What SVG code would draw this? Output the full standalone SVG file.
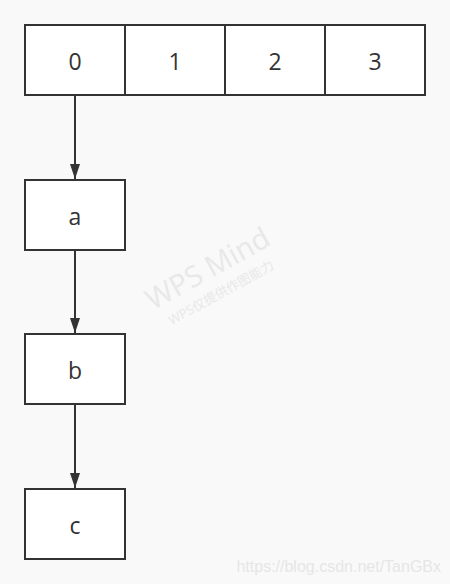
<svg xmlns="http://www.w3.org/2000/svg" width="450" height="584" viewBox="0 0 450 584">
<style>
.box{fill:#ffffff;stroke:#333333;stroke-width:2}
.lbl{font-family:"Open Sans","Noto Sans",sans-serif;font-size:23px;fill:#333333;text-anchor:middle;dominant-baseline:central}
.edge{stroke:#333333;stroke-width:2;fill:none}
.wm{font-family:"Open Sans","Noto Sans","Noto Sans CJK SC",sans-serif;fill:#e8e8e8}
</style>
<defs>
<marker id="arr" markerWidth="15" markerHeight="10" refX="15" refY="5" orient="auto" markerUnits="userSpaceOnUse" viewBox="0 0 15 10">
<path d="M0,0 L15,5 L0,10 Z" fill="#333333"/>
</marker>
</defs>
<rect width="450" height="584" fill="#f9f9f9"/>
<g class="wm" transform="rotate(-29 214 280)">
<text x="214" y="277" font-size="29" text-anchor="middle">WPS Mind</text>
<text x="214" y="299" font-size="13" text-anchor="middle">WPS仅提供作图能力</text>
</g>
<text x="441" y="572" font-family="Liberation Sans, Arial, sans-serif" font-size="16" fill="#e6e6e6" text-anchor="end">https://blog.csdn.net/TanGBx</text>
<g id="connectors">
<line class="edge" x1="75" y1="95" x2="75" y2="179" marker-end="url(#arr)"/>
<line class="edge" x1="75" y1="250" x2="75" y2="333" marker-end="url(#arr)"/>
<line class="edge" x1="75" y1="404" x2="75" y2="488" marker-end="url(#arr)"/>
</g>
<g id="array">
<rect class="box" x="25" y="25" width="400" height="70"/>
<line class="edge" x1="125" y1="25" x2="125" y2="95"/>
<line class="edge" x1="225" y1="25" x2="225" y2="95"/>
<line class="edge" x1="325" y1="25" x2="325" y2="95"/>
<text class="lbl" x="75" y="61">0</text>
<text class="lbl" x="175" y="61">1</text>
<text class="lbl" x="275" y="61">2</text>
<text class="lbl" x="375" y="61">3</text>
</g>
<g id="node-a">
<rect class="box" x="25" y="180" width="100" height="70"/>
<text class="lbl" x="75" y="216">a</text>
</g>
<g id="node-b">
<rect class="box" x="25" y="334" width="100" height="70"/>
<text class="lbl" x="75" y="370">b</text>
</g>
<g id="node-c">
<rect class="box" x="25" y="489" width="100" height="70"/>
<text class="lbl" x="75" y="525">c</text>
</g>
</svg>
